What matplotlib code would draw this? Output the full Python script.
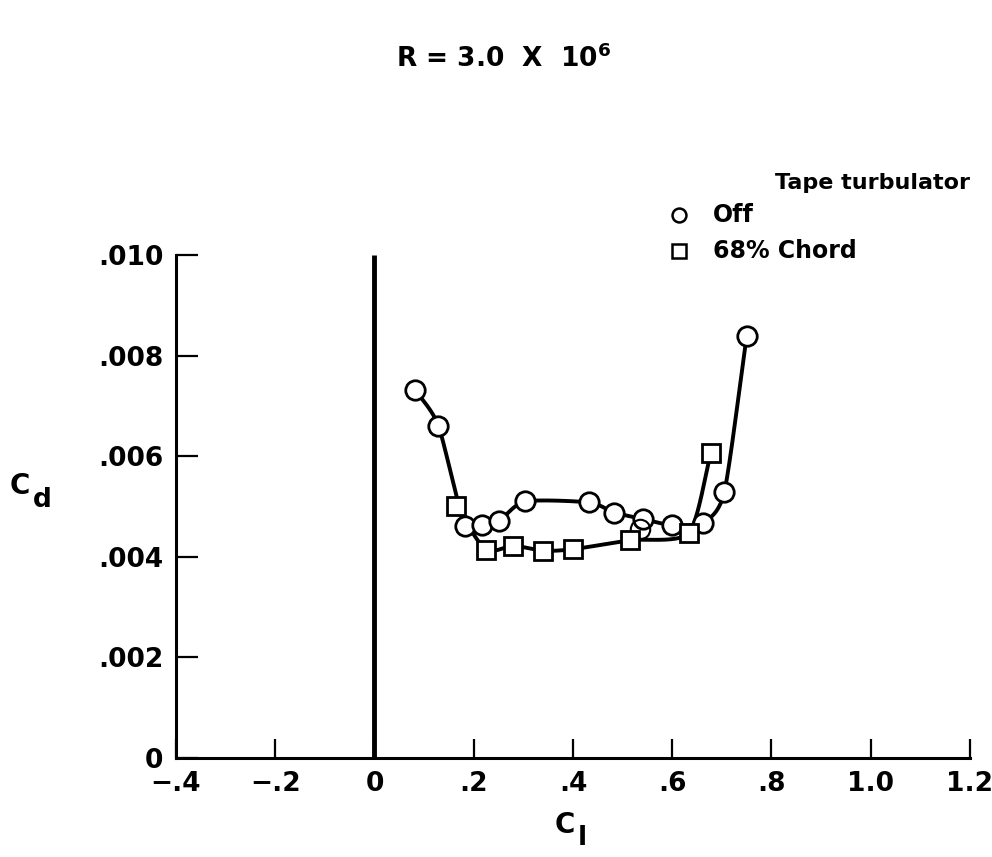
import numpy as np
import matplotlib
matplotlib.use('Agg')
import matplotlib.pyplot as plt

plt.rcParams['font.family'] = ['DejaVu Sans']
plt.rcParams['font.weight'] = 'bold'
plt.rcParams['mathtext.fontset'] = 'custom'
plt.rcParams['mathtext.rm'] = 'DejaVu Sans:bold'
plt.rcParams['mathtext.bf'] = 'DejaVu Sans:bold'

# data
off_cl = [0.082, 0.129, 0.182, 0.216, 0.251, 0.303, 0.433, 0.483, 0.541, 0.599, 0.662, 0.705, 0.750]
off_cd = [0.00732, 0.00660, 0.00461, 0.00463, 0.00471, 0.00510, 0.00508, 0.00488, 0.00475, 0.00463,
          0.00468, 0.00529, 0.00839]
off_rep_cl = [0.535]
off_rep_cd = [0.00456]

tape_cl = [0.164, 0.224, 0.280, 0.340, 0.400, 0.515, 0.633, 0.678]
tape_cd = [0.00501, 0.00414, 0.00422, 0.00412, 0.00415, 0.00433, 0.00447, 0.00607]

x_ticks = [-0.4, -0.2, 0, 0.2, 0.4, 0.6, 0.8, 1.0, 1.2]
x_labels = ['\u2212.4', '\u2212.2', '0', '.2', '.4', '.6', '.8', '1.0', '1.2']
y_ticks = [0, 0.002, 0.004, 0.006, 0.008, 0.010]
y_labels = ['0', '.002', '.004', '.006', '.008', '.010']


def fair(xs, ys, n=40, k=100.0, c=0.3):
    # cardinal-spline fairing through the points, tension c keeps it from overshooting
    p = np.column_stack([xs, np.array(ys) * k])
    m = np.zeros_like(p)
    m[1:-1] = (1 - c) * (p[2:] - p[:-2]) / 2
    m[0] = (1 - c) * (p[1] - p[0])
    m[-1] = (1 - c) * (p[-1] - p[-2])
    t = np.linspace(0, 1, n)[:, None]
    h00 = 2 * t ** 3 - 3 * t ** 2 + 1
    h10 = t ** 3 - 2 * t ** 2 + t
    h01 = -2 * t ** 3 + 3 * t ** 2
    h11 = t ** 3 - t ** 2
    out = [h00 * p[i] + h10 * m[i] + h01 * p[i + 1] + h11 * m[i + 1] for i in range(len(p) - 1)]
    out = np.vstack(out)
    return out[:, 0], out[:, 1] / k


fig = plt.figure(figsize=(9.92, 8.57), dpi=100)
ax = fig.add_axes([0.1774, 0.1155, 0.8004, 0.5870])

ax.set_xlim(-0.4, 1.2)
ax.set_ylim(0, 0.010)

# zero line
ax.plot([0, 0], [0, 0.010], color='black', lw=3.5, solid_capstyle='butt', zorder=2)

fx, fy = fair(off_cl, off_cd)
ax.plot(fx, fy, color='black', lw=2.8, zorder=3)
tx, ty = fair(tape_cl, tape_cd)
ax.plot(tx, ty, color='black', lw=2.8, zorder=3)

ax.plot(off_cl, off_cd, 'o', ms=14, mfc='white', mec='black', mew=2.0, zorder=4)
ax.plot(off_rep_cl, off_rep_cd, 'o', ms=14, mfc='none', mec='black', mew=1.5, zorder=4)
ax.plot(tape_cl, tape_cd, 's', ms=13.5, mfc='white', mec='black', mew=2.0, zorder=5)

for s in ['top', 'right']:
    ax.spines[s].set_visible(False)
for s in ['left', 'bottom']:
    ax.spines[s].set_linewidth(2.2)

ax.set_xticks(x_ticks)
ax.set_xticklabels(x_labels)
ax.set_yticks(y_ticks)
ax.set_yticklabels(y_labels)
ax.tick_params(axis='x', direction='in', length=14, width=1.6, pad=9, labelsize=19)
ax.tick_params(axis='y', direction='in', length=16, width=1.6, pad=9, labelsize=19)
for lab in ax.get_xticklabels() + ax.get_yticklabels():
    lab.set_fontweight('bold')

# axis labels, subscript drawn as its own text
fig.text(10 / 992, 1 - 486 / 857, 'C', fontsize=20, ha='left', va='center', fontweight='bold')
fig.text(33 / 992, 1 - 487 / 857, 'd', fontsize=19, ha='left', va='top', fontweight='bold')
fig.text(555 / 992, 1 - 825 / 857, 'C', fontsize=20, ha='left', va='center', fontweight='bold')
fig.text(578 / 992, 1 - 825 / 857, 'l', fontsize=19, ha='left', va='top', fontweight='bold')

fig.text(0.508, 0.932, r'R = 3.0  X  10$^{6}$', fontsize=19, ha='center', va='center', fontweight='bold')

# legend
fig.text(0.781, 0.786, 'Tape turbulator', fontsize=16, ha='left', va='center', fontweight='bold')
fig.lines.append(plt.Line2D([679 / 992], [1 - 215 / 857], marker='o', ms=10, mfc='white', mec='black',
                            mew=1.8, transform=fig.transFigure))
fig.lines.append(plt.Line2D([679 / 992], [1 - 251 / 857], marker='s', ms=10, mfc='white', mec='black',
                            mew=1.8, transform=fig.transFigure))
fig.text(713 / 992, 1 - 215 / 857, 'Off', fontsize=17, ha='left', va='center', fontweight='bold')
fig.text(713 / 992, 1 - 251 / 857, '68% Chord', fontsize=17, ha='left', va='center', fontweight='bold')

fig.savefig('out.png', dpi=100)
